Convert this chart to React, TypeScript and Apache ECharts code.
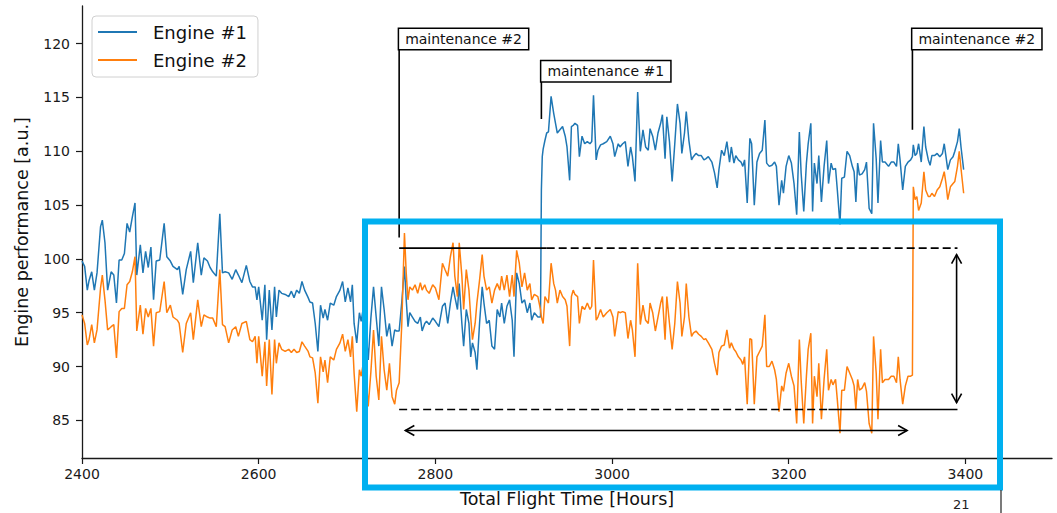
import React, { useEffect, useRef } from "react";
import * as echarts from "echarts";

const FONT = '"DejaVu Sans", "Liberation Sans", sans-serif';

const xTicks = [2400, 2600, 2800, 3000, 3200, 3400];
const yTicks = [85, 90, 95, 100, 105, 110, 115, 120];
const seriesNames = ["Engine #1", "Engine #2"];

// [flight hour, engine #1, engine #2]
const seg2400 = [
  [2400, 99.8, 94.8], [2403, 99.3, 94.0], [2406, 97.1, 92.0], [2408, 98.0, 92.5], [2411, 98.8, 93.9],
  [2414, 97.1, 92.2], [2417, 98.7, 93.4], [2421, 103.0, 97.3], [2423, 103.6, 98.5], [2426, 101.5, 96.2],
  [2429, 97.1, 93.4], [2433, 98.8, 93.7], [2436, 98.5, 93.9], [2439, 95.9, 90.8], [2442, 99.9, 95.1],
  [2445, 99.9, 95.4], [2448, 100.5, 95.4], [2451, 103.3, 97.6], [2454, 102.5, 97.9], [2457, 103.9, 98.8],
  [2460, 105.2, 100.2], [2462, 98.5, 93.3], [2466, 101.3, 95.7], [2469, 98.7, 93.0], [2472, 100.7, 95.4],
  [2475, 99.2, 94.6], [2478, 101.1, 95.4], [2481, 96.2, 91.9], [2484, 99.8, 95.0], [2488, 99.9, 95.1],
  [2493, 103.3, 97.9], [2496, 100.2, 95.0], [2500, 99.8, 95.7], [2503, 99.3, 94.6], [2508, 99.0, 94.3],
  [2510, 99.3, 94.0], [2514, 96.7, 91.3], [2518, 99.0, 94.0], [2523, 100.7, 95.0], [2526, 97.8, 92.5],
  [2531, 101.5, 96.2], [2535, 98.5, 93.7], [2538, 100.1, 94.8], [2542, 99.8, 94.6], [2545, 99.2, 94.5],
  [2548, 98.8, 94.5], [2552, 98.4, 93.7], [2556, 104.2, 99.0], [2559, 98.7, 93.9], [2562, 98.8, 93.7],
  [2566, 98.7, 92.2], [2570, 98.1, 93.4], [2574, 99.0, 93.7], [2577, 98.5, 92.8], [2581, 97.8, 94.0],
  [2586, 99.4, 94.2], [2590, 97.9, 92.5], [2593, 97.4, 92.3],
];

const seg2600 = [
  [2596, 97.4, 92.8], [2598, 96.2, 90.3], [2600, 97.4, 92.8], [2604, 94.3, 89.1], [2607, 97.6, 92.3],
  [2609, 92.5, 88.2], [2612, 97.1, 92.5], [2615, 93.4, 87.4], [2618, 97.4, 92.5], [2620, 94.6, 90.3],
  [2623, 97.1, 92.2], [2626, 96.8, 91.6], [2630, 96.7, 91.4], [2634, 96.5, 91.6], [2637, 97.0, 91.3],
  [2640, 96.4, 91.6], [2643, 97.1, 91.3], [2646, 96.8, 91.4], [2649, 97.9, 92.3], [2652, 97.1, 91.9],
  [2656, 96.4, 91.4], [2658, 96.0, 90.9], [2661, 95.9, 90.8], [2664, 94.0, 89.4], [2667, 91.4, 86.6],
  [2670, 95.7, 90.9], [2673, 94.5, 89.5], [2675, 95.3, 90.6], [2678, 94.3, 88.5], [2681, 95.9, 90.9],
  [2685, 95.7, 90.6], [2688, 96.5, 91.6], [2692, 97.1, 92.2], [2695, 97.9, 93.0], [2698, 96.0, 91.4],
  [2701, 97.3, 92.5], [2704, 96.0, 90.9], [2706, 97.6, 92.8], [2708, 94.0, 89.4], [2711, 92.2, 85.8],
  [2714, 95.0, 89.7], [2716, 94.2, 89.1], [2719, 95.7, 90.6], [2721, 94.0, 89.7], [2724, 90.6, 86.3],
  [2727, 94.5, 89.5], [2730, 97.4, 93.4], [2733, 94.6, 89.1], [2736, 91.9, 86.9], [2739, 97.4, 92.8],
  [2742, 95.3, 89.7], [2745, 92.8, 87.8], [2748, 94.0, 90.3], [2751, 91.9, 87.2], [2754, 93.4, 86.5],
  [2756, 93.3, 87.8], [2759, 93.3, 88.5], [2762, 96.0, 94.0], [2765, 99.3, 102.4], [2767, 96.2, 98.7],
  [2769, 93.7, 96.2], [2771, 95.0, 97.4], [2774, 94.6, 97.1], [2777, 94.2, 97.6], [2780, 94.0, 96.8],
  [2783, 94.6, 97.8], [2785, 93.3, 97.1], [2788, 94.0, 97.6], [2790, 94.2, 97.1], [2793, 93.9, 96.8],
  [2797, 94.5, 97.6], [2800, 94.2, 97.3], [2804, 93.7, 96.2],
];

const seg2800 = [
  [2808, 95.6, 99.6], [2811, 95.9, 99.0], [2814, 94.0, 98.4], [2817, 95.9, 100.2], [2820, 97.4, 101.5],
  [2822, 96.5, 98.4], [2825, 95.3, 96.5], [2827, 97.7, 101.5], [2830, 94.0, 98.4], [2832, 91.9, 95.3],
  [2835, 95.3, 99.0], [2838, 94.0, 97.1], [2840, 90.9, 94.6], [2842, 92.2, 92.5], [2845, 91.3, 94.0],
  [2847, 89.7, 95.9], [2850, 94.0, 98.0], [2853, 97.4, 100.4], [2855, 95.9, 98.4], [2858, 94.0, 97.1],
  [2861, 94.3, 97.4], [2864, 91.9, 95.9], [2867, 91.6, 97.1], [2870, 95.3, 97.7], [2873, 94.6, 97.1],
  [2875, 95.9, 98.4], [2878, 94.0, 97.1], [2881, 95.6, 98.5], [2884, 96.2, 96.5], [2887, 94.3, 98.5],
  [2889, 90.9, 96.5], [2892, 98.7, 100.8], [2895, 97.7, 99.6], [2898, 95.9, 97.4], [2901, 96.2, 98.7],
  [2904, 95.0, 97.1], [2907, 95.9, 97.7], [2909, 94.3, 96.2], [2912, 95.0, 96.7], [2916, 94.6, 96.5],
  [2919, 94.6, 95.3], [2920, 106.4, 94.6], [2921, 109.5, 94.3], [2922, 110.2, 94.0], [2924, 111.0, 96.5],
  [2926, 111.7, 96.2], [2928, 111.8, 95.9], [2931, 115.1, 99.6], [2934, 113.5, 97.7], [2936, 112.6, 97.1],
  [2938, 111.7, 95.9], [2941, 112.0, 97.1], [2944, 112.3, 96.5], [2947, 111.4, 96.2], [2949, 110.4, 95.6],
  [2952, 107.3, 91.9], [2954, 112.3, 96.5], [2956, 112.4, 97.1], [2958, 112.6, 96.7], [2961, 112.4, 96.5],
  [2963, 109.5, 94.0], [2966, 111.4, 95.6], [2969, 110.7, 95.3], [2972, 110.9, 95.9], [2975, 110.7, 95.3],
  [2977, 110.9, 95.6], [2979, 115.2, 99.9], [2982, 109.2, 94.3], [2984, 110.1, 94.6], [2987, 110.6, 95.3],
  [2990, 110.7, 94.6], [2994, 110.9, 95.0], [2998, 111.4, 95.3], [3001, 110.7, 94.6], [3003, 109.5, 92.8],
];

const seg3000 = [
  [3007, 110.7, 95.1], [3009, 110.4, 95.0], [3012, 110.7, 95.1], [3015, 110.9, 95.0], [3018, 108.6, 92.6],
  [3021, 110.4, 94.3], [3023, 109.5, 93.4], [3026, 107.2, 90.9], [3029, 115.5, 99.6], [3032, 110.0, 93.9],
  [3035, 112.0, 95.7], [3038, 110.4, 94.3], [3041, 110.1, 94.0], [3043, 112.1, 95.9], [3046, 111.4, 95.0],
  [3049, 110.1, 93.3], [3052, 111.7, 94.6], [3055, 112.6, 95.9], [3057, 113.4, 96.5], [3060, 109.3, 92.5],
  [3062, 113.2, 96.5], [3065, 110.9, 94.0], [3068, 107.2, 91.6], [3071, 110.7, 94.0], [3074, 114.4, 97.9],
  [3077, 112.6, 95.9], [3079, 109.8, 92.8], [3082, 111.7, 94.6], [3084, 113.7, 97.7], [3087, 111.0, 94.6],
  [3090, 109.2, 92.8], [3092, 109.5, 93.1], [3095, 109.8, 93.3], [3098, 109.6, 93.0], [3101, 109.6, 92.8],
  [3104, 109.2, 92.5], [3106, 109.3, 92.6], [3109, 109.5, 92.2], [3113, 109.0, 91.6], [3116, 108.0, 90.3],
  [3119, 106.6, 89.2], [3121, 108.3, 91.3], [3124, 110.1, 91.9], [3127, 109.6, 92.0], [3130, 110.9, 93.4],
  [3133, 109.0, 91.7], [3135, 110.4, 92.2], [3138, 108.9, 91.6], [3140, 109.6, 91.4], [3143, 109.2, 90.9],
  [3146, 109.0, 90.6], [3148, 108.6, 90.2], [3150, 109.2, 90.9], [3153, 105.2, 86.5], [3156, 111.2, 92.6],
  [3158, 110.7, 92.5], [3161, 105.0, 86.5], [3164, 109.0, 90.9], [3167, 109.8, 91.4], [3170, 110.1, 91.9],
  [3173, 112.9, 94.8], [3175, 108.9, 90.0], [3178, 108.6, 90.0], [3181, 108.7, 90.5], [3184, 109.0, 89.7],
  [3186, 108.6, 88.8], [3189, 105.0, 85.8], [3192, 107.3, 88.2], [3194, 106.1, 87.7], [3197, 108.6, 89.4],
  [3200, 109.6, 90.3], [3203, 108.9, 89.1], [3206, 107.0, 88.2], [3209, 104.1, 84.7],
];

const seg3200 = [
  [3212, 111.8, 92.5], [3214, 108.0, 88.8], [3217, 104.4, 84.7], [3220, 108.9, 89.1], [3222, 110.7, 91.6],
  [3225, 112.6, 93.1], [3227, 104.4, 84.7], [3229, 108.9, 89.1], [3232, 107.0, 87.2], [3234, 109.6, 90.3],
  [3237, 105.3, 85.1], [3240, 108.6, 88.8], [3243, 111.0, 91.6], [3245, 107.0, 87.8], [3248, 108.9, 88.8],
  [3250, 108.3, 88.3], [3253, 108.4, 88.8], [3255, 106.4, 86.9], [3258, 103.2, 83.8], [3260, 107.5, 87.8],
  [3263, 107.6, 87.8], [3266, 110.0, 90.0], [3269, 109.6, 89.4], [3272, 108.6, 88.8], [3274, 108.1, 88.2],
  [3276, 105.3, 86.0], [3278, 108.9, 88.8], [3280, 107.8, 87.8], [3283, 107.9, 88.0], [3286, 108.3, 88.5],
  [3288, 109.0, 87.7], [3291, 104.7, 84.7], [3294, 104.2, 83.8], [3296, 112.6, 92.8], [3299, 109.3, 89.4],
  [3301, 105.2, 85.1], [3304, 111.0, 91.6], [3306, 109.0, 88.5], [3309, 109.0, 88.8], [3313, 108.6, 88.8],
  [3316, 109.0, 89.1], [3319, 109.0, 89.1], [3322, 108.6, 88.5], [3324, 110.7, 90.9], [3326, 109.2, 88.8],
  [3329, 106.4, 86.5], [3332, 108.6, 88.2], [3335, 109.0, 89.1], [3338, 109.2, 89.1], [3340, 109.5, 89.2],
  [3341, 110.6, 106.7], [3343, 109.6, 105.5], [3345, 109.8, 105.8], [3347, 110.7, 104.5], [3350, 109.0, 105.2],
  [3353, 112.3, 108.1], [3355, 110.4, 106.4], [3358, 109.2, 105.8], [3360, 108.7, 105.8], [3362, 109.6, 106.1],
  [3365, 109.6, 105.8], [3368, 109.8, 106.4], [3371, 109.5, 106.7], [3374, 109.8, 107.5], [3376, 110.7, 108.1],
  [3378, 109.5, 107.0], [3380, 108.3, 105.5], [3383, 109.2, 106.7], [3386, 109.5, 107.0], [3388, 110.0, 107.2],
  [3391, 110.9, 108.6], [3393, 112.1, 110.0], [3395, 110.4, 108.4], [3398, 108.3, 106.1],
];

const segments = [seg2400, seg2600, seg2800, seg3000, seg3200];

// annotations (data coordinates)
const maintenanceEvents = [
  { label: "maintenance #2", hour: 2759, lineFrom: 102.0, boxAt: 119.5 },
  { label: "maintenance #1", hour: 2920, lineFrom: 113.0, boxAt: 116.5 },
  { label: "maintenance #2", hour: 3340, lineFrom: 112.0, boxAt: 119.5 },
];
const upperLevel = { value: 101.0, start: 2759, solidEnd: 2926, end: 3391 };
const lowerLevel = { value: 86.0, start: 2759, dashEnd: 3245, end: 3391 };
const verticalArrow = { hour: 3390, from: 86.65, to: 100.4 };
const horizontalArrow = { value: 84.05, from: 2766, to: 3334 };

export default function App() {
  const ref = useRef<HTMLDivElement>(null);

  useEffect(() => {
    if (!ref.current) return;
    const chart = echarts.init(ref.current, undefined, { renderer: "svg" });

    const all = segments.flat();
    const engine1 = all.map((r) => [r[0], r[1]]);
    const engine2 = all.map((r) => [r[0], r[2]]);

    const renderAnnotations = (params: any, api: any) => {
      const c = (x: number, y: number) => api.coord([x, y]);
      const children: any[] = [];
      const seg = (p1: number[], p2: number[], dashed = false) => ({
        type: "line",
        shape: { x1: p1[0], y1: p1[1], x2: p2[0], y2: p2[1] },
        style: { stroke: "#000", lineWidth: 1.6, lineDash: dashed ? [8, 4] : null, fill: null },
      });
      const head = (tip: number[], from: number[]) => {
        const dx = tip[0] - from[0];
        const dy = tip[1] - from[1];
        const len = Math.sqrt(dx * dx + dy * dy) || 1;
        const ux = dx / len;
        const uy = dy / len;
        const L = 9;
        const W = 5;
        const bx = tip[0] - ux * L;
        const by = tip[1] - uy * L;
        return {
          type: "polyline",
          shape: { points: [[bx - uy * W, by + ux * W], tip, [bx + uy * W, by - ux * W]] },
          style: { stroke: "#000", lineWidth: 1.6, fill: null },
        };
      };

      maintenanceEvents.forEach((m) => {
        const p1 = c(m.hour, m.lineFrom);
        const p2 = c(m.hour, m.boxAt);
        children.push(seg(p1, p2));
        children.push({
          type: "text",
          style: {
            text: m.label,
            x: p2[0],
            y: p2[1],
            align: "left",
            verticalAlign: "bottom",
            font: `14px ${FONT}`,
            fill: "#111",
            backgroundColor: "#fff",
            borderColor: "#000",
            borderWidth: 1.5,
            padding: [3, 6, 3, 6],
          },
        });
      });

      children.push(seg(c(upperLevel.start, upperLevel.value), c(upperLevel.solidEnd, upperLevel.value)));
      children.push(seg(c(upperLevel.solidEnd, upperLevel.value), c(upperLevel.end, upperLevel.value), true));
      children.push(seg(c(lowerLevel.start, lowerLevel.value), c(lowerLevel.dashEnd, lowerLevel.value), true));
      children.push(seg(c(lowerLevel.dashEnd, lowerLevel.value), c(lowerLevel.end, lowerLevel.value)));

      const va = c(verticalArrow.hour, verticalArrow.from);
      const vb = c(verticalArrow.hour, verticalArrow.to);
      children.push(seg(va, vb));
      children.push(head(va, vb));
      children.push(head(vb, va));

      const ha = c(horizontalArrow.from, horizontalArrow.value);
      const hb = c(horizontalArrow.to, horizontalArrow.value);
      children.push(seg(ha, hb));
      children.push(head(ha, hb));
      children.push(head(hb, ha));

      return { type: "group", children };
    };

    const axisColor = "#1a1a1a";
    const plain = (v: number) => String(v);

    chart.setOption({
      animation: false,
      backgroundColor: "#fff",
      textStyle: { fontFamily: FONT },
      grid: { left: 82, top: 6, right: 5, bottom: 55, containLabel: false },
      legend: {
        data: seriesNames,
        left: 92,
        top: 16,
        orient: "vertical",
        icon: "rect",
        itemWidth: 39,
        itemHeight: 2,
        itemGap: 8,
        padding: [6, 11, 7, 6],
        backgroundColor: "rgba(255,255,255,0.9)",
        borderColor: "#d0d0d0",
        borderWidth: 1,
        borderRadius: 4,
        textStyle: { fontSize: 18, fontFamily: FONT, color: "#111", lineHeight: 20, padding: [0, 0, 0, 11] },
      },
      xAxis: {
        type: "value",
        min: 2400,
        max: 3498,
        name: "Total Flight Time [Hours]",
        nameLocation: "middle",
        nameGap: 32,
        nameTextStyle: { fontSize: 17.5, color: "#111", fontFamily: FONT },
        axisLine: { show: true, onZero: false, lineStyle: { color: axisColor, width: 1.3 } },
        axisTick: { show: true, length: 6, customValues: xTicks, lineStyle: { color: axisColor, width: 1.2 } },
        axisLabel: { customValues: xTicks, formatter: plain, fontSize: 14, color: axisColor, margin: 9, fontFamily: FONT },
        splitLine: { show: false },
      },
      yAxis: {
        type: "value",
        min: 81.5,
        max: 123.5,
        name: "Engine performance [a.u.]",
        nameLocation: "middle",
        nameGap: 51,
        nameTextStyle: { fontSize: 17.5, color: "#111", fontFamily: FONT },
        axisLine: { show: true, onZero: false, lineStyle: { color: axisColor, width: 1.3 } },
        axisTick: { show: true, length: 6, customValues: yTicks, lineStyle: { color: axisColor, width: 1.2 } },
        axisLabel: { customValues: yTicks, formatter: plain, fontSize: 14, color: axisColor, margin: 12, fontFamily: FONT },
        splitLine: { show: false },
      },
      graphic: [
        {
          type: "rect",
          z: 100,
          shape: { x: 365, y: 221.5, width: 635, height: 266 },
          style: { fill: "none", stroke: "#00b0f0", lineWidth: 6 },
        },
        {
          type: "line",
          z: 100,
          shape: { x1: 1001, y1: 490, x2: 1001, y2: 513 },
          style: { stroke: "#222", lineWidth: 1.2 },
        },
        {
          type: "text",
          z: 100,
          x: 953,
          y: 498,
          style: { text: "21", font: `13px ${FONT}`, fill: "#222" },
        },
      ],
      series: [
        {
          name: seriesNames[0],
          type: "line",
          data: engine1,
          showSymbol: false,
          symbol: "none",
          lineStyle: { width: 1.5, color: "#1f77b4" },
          itemStyle: { color: "#1f77b4" },
          z: 2,
        },
        {
          name: seriesNames[1],
          type: "line",
          data: engine2,
          showSymbol: false,
          symbol: "none",
          lineStyle: { width: 1.5, color: "#ff7f0e" },
          itemStyle: { color: "#ff7f0e" },
          z: 3,
        },
        {
          name: "annotations",
          type: "custom",
          coordinateSystem: "cartesian2d",
          data: [[2400, 100]],
          renderItem: renderAnnotations,
          silent: true,
          clip: false,
          z: 5,
        },
      ],
    });

    return () => chart.dispose();
  }, []);

  return (
    <div
      ref={ref}
      style={{ position: "fixed", left: 0, top: 0, width: 1057, height: 513, background: "#fff" }}
    />
  );
}
